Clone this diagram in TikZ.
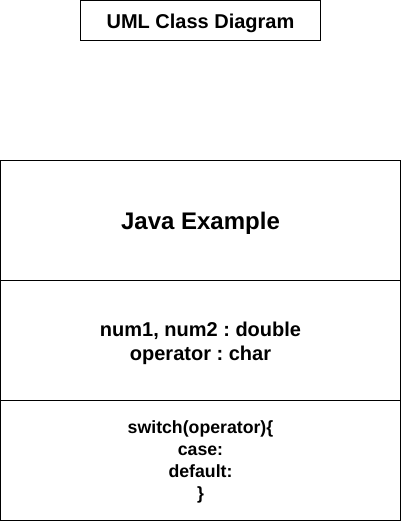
\documentclass[tikz,border=0pt]{standalone}
\usepackage{fontspec}
\setmainfont{Liberation Sans}
\frenchspacing
\begin{document}
\begin{tikzpicture}[x=1pt,y=-1pt,
  boxs/.style={draw=black,line width=1pt},
  txt/.style={align=center,inner sep=0pt}]
\useasboundingbox (0,0) rectangle (401,521);
\draw[boxs] (80.5,0.5) rectangle (320.5,40.5);
\node[txt,font=\fontsize{20}{24}\selectfont\bfseries] (title) at (200.5,23) {UML Class Diagram};
\draw[boxs] (0.5,160.5) rectangle (400.5,520.5);
\draw[boxs] (0.5,280.5) -- (400.5,280.5);
\draw[boxs] (0.5,400.5) -- (400.5,400.5);
\node[txt,font=\fontsize{24}{28}\selectfont\bfseries] (name) at (200.5,223) {Java Example};
\node[txt,font=\fontsize{20}{24}\selectfont\bfseries] (attrs) at (200.5,343) {num1, num2 : double\\operator : char};
\node[txt,font=\fontsize{17.7}{21.8}\selectfont\bfseries] (ops) at (200.5,462) {switch(operator)\{\\case:\\default:\\\}};
\end{tikzpicture}
\end{document}
